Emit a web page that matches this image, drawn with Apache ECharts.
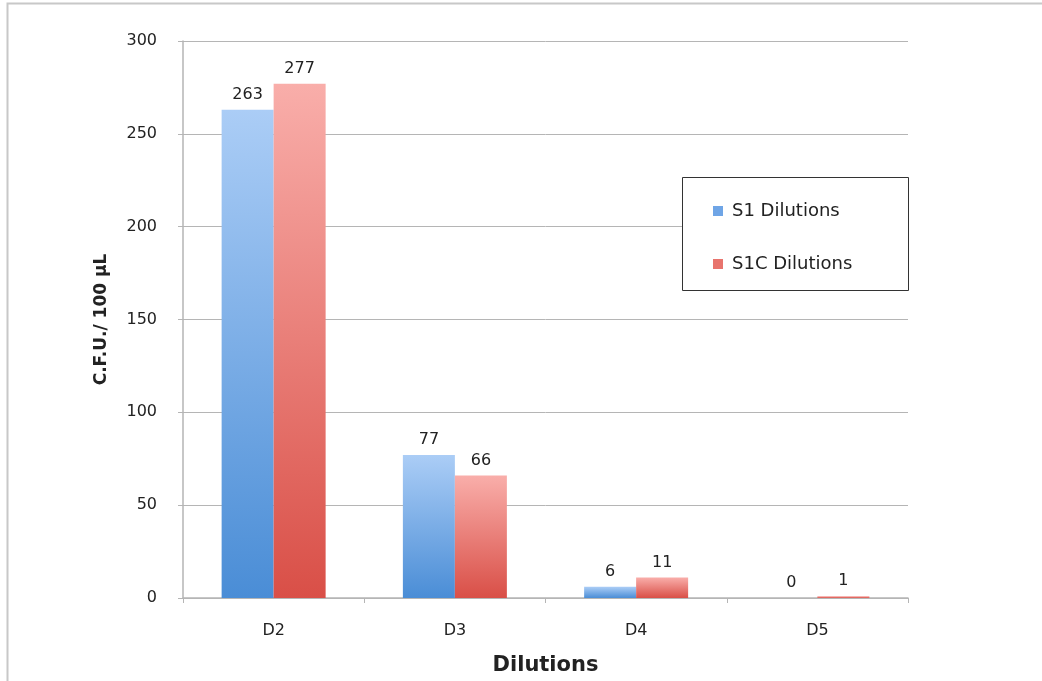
<!DOCTYPE html>
<html><head><meta charset="utf-8">
<script src="https://cdn.jsdelivr.net/npm/echarts@6/dist/echarts.min.js"></script>
<style>html,body{margin:0;padding:0;background:#fff}#c{width:1042px;height:681px}</style>
</head><body><div id="c"></div>
<script>
const categories = ['D2','D3','D4','D5'];
const s1 = [263, 77, 6, 0];
const s1c = [277, 66, 11, 1];
const seriesNames = ['S1 Dilutions','S1C Dilutions'];
const yTicks = {min:0, max:300, interval:50};

const FONT = 'DejaVu Sans';
const chart = echarts.init(document.getElementById('c'));
const grad = (top, bottom) => new echarts.graphic.LinearGradient(0,0,0,1,[{offset:0,color:top},{offset:1,color:bottom}]);
const blue = grad('#abcdf6', '#4a8dd6');
const red = grad('#f9aeaa', '#d94f47');
const lbl = {show:true, position:'top', color:'#222', fontSize:16, fontFamily:FONT, distance:7};
chart.setOption({
  animation:false,
  graphic:[
    {type:'rect', shape:{x:7.5,y:3.5,width:1100,height:700}, style:{fill:'none', stroke:'#c8c8c8', lineWidth:2}, silent:true},
    {type:'rect', z:5, shape:{x:682.5,y:177.5,width:226,height:113}, style:{fill:'#fff', stroke:'#333', lineWidth:1}, silent:true}
  ],
  grid:{left:183, right:134, top:41, bottom:78},
  legend:{
    left:713, top:202, orient:'vertical', z:10,
    padding:[0,0,0,0], itemGap:35, itemWidth:10, itemHeight:10, icon:'rect',
    textStyle:{fontSize:18, fontFamily:FONT, color:'#222', padding:[0,0,0,4]},
    data:[{name:seriesNames[0], itemStyle:{color:'#6fa5e6'}},{name:seriesNames[1], itemStyle:{color:'#e8746d'}}]
  },
  xAxis:{type:'category', data:categories,
    axisLine:{lineStyle:{color:'#b5b5b5', width:1.5}},
    axisTick:{show:true, length:5, lineStyle:{color:'#b5b5b5'}},
    axisLabel:{fontSize:16, color:'#222', fontFamily:FONT, margin:25},
    name:'Dilutions', nameLocation:'middle', nameGap:57,
    nameTextStyle:{fontSize:21, fontWeight:'bold', color:'#222', fontFamily:FONT}
  },
  yAxis:{type:'value', min:yTicks.min, max:yTicks.max, interval:yTicks.interval,
    axisLine:{show:true, lineStyle:{color:'#b5b5b5', width:1.5}},
    axisTick:{show:true, length:5, lineStyle:{color:'#b5b5b5'}},
    splitLine:{lineStyle:{color:'#b5b5b5', width:1}},
    axisLabel:{fontSize:16, color:'#222', fontFamily:FONT, margin:26},
    name:'C.F.U./ 100 µL', nameLocation:'middle', nameGap:73, nameRotate:90,
    nameTextStyle:{fontSize:17, fontWeight:'bold', color:'#222', fontFamily:FONT}
  },
  series:[
    {name:seriesNames[0], type:'bar', data:s1, barWidth:52, barGap:'0%', itemStyle:{color:blue}, label:lbl},
    {name:seriesNames[1], type:'bar', data:s1c, barWidth:52, barGap:'0%', itemStyle:{color:red}, label:lbl}
  ]
});
</script></body></html>
